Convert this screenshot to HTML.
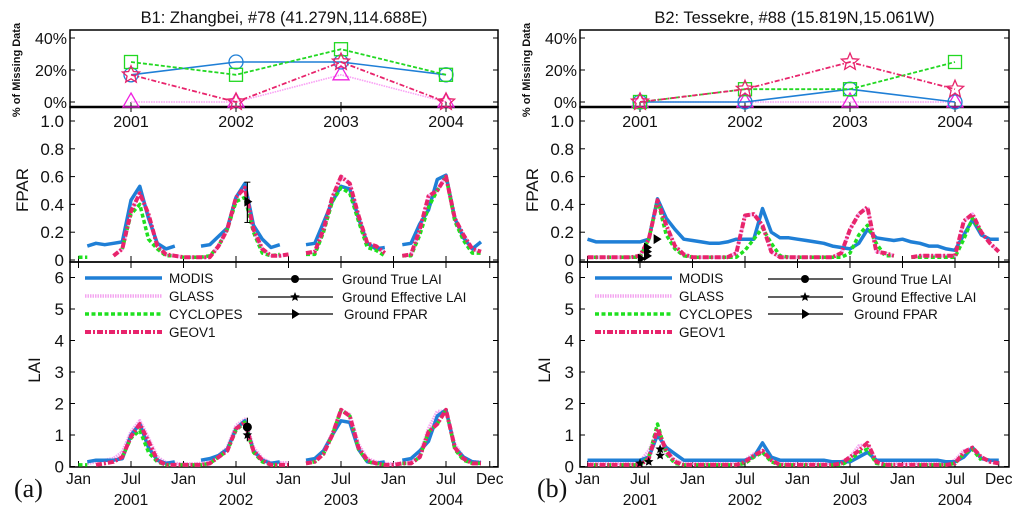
<!DOCTYPE html>
<html><head><meta charset="utf-8"><style>
html,body{margin:0;padding:0;background:#fff;width:1024px;height:518px;overflow:hidden}
svg{display:block;font-family:"Liberation Sans",Arial,sans-serif}
</style></head><body>
<svg id="chart" width="1024" height="518" viewBox="0 0 1024 518" xmlns="http://www.w3.org/2000/svg"></svg>
<script>
// ---------- data ----------
const years = ['2001','2002','2003','2004'];
const monthTickIdx = [0,6,12,18,24,30,36,42,47];
const monthTickLabels = ['Jan','Jul','Jan','Jul','Jan','Jul','Jan','Jul','Dec'];
const pctTicks = [0,20,40];
const fparTicks = [0,0.2,0.4,0.6,0.8,1.0];
const fparTickLabels = ['0','0.2','0.4','0.6','0.8','1.0'];
const laiTicks = [0,1,2,3,4,5,6];
const N = null;
// Left site B1 — missing data %
const aMissModis = [17,25,25,17];
const aMissGlass = [0,0,17,0];
const aMissCyc = [25,17,33,17];
const aMissGeo = [17,0,25,0];
// Left FPAR
const aFparModis = [N,0.10,0.12,0.11,0.12,0.13,0.43,0.53,0.30,0.12,0.08,0.10,N,N,0.10,0.11,0.17,0.23,0.45,0.55,0.25,0.15,0.09,0.11,N,N,0.11,0.12,0.27,0.42,0.53,0.51,0.30,0.12,0.08,0.09,N,0.11,0.12,0.26,0.36,0.58,0.61,0.30,0.16,0.08,0.13,N];
const aFparCyc = [0.02,0.02,N,N,N,0.08,0.33,0.40,0.15,0.08,0.03,0.03,0.02,0.02,0.02,0.03,0.10,0.22,0.42,0.45,0.20,0.05,0.03,0.04,N,N,0.04,0.04,0.20,0.42,0.52,0.48,0.28,0.09,0.07,0.03,N,0.03,0.03,0.18,0.38,0.50,0.60,0.28,0.14,0.05,0.05,N];
const aFparGeo = [N,N,N,N,0.03,0.08,0.35,0.48,0.33,0.10,0.04,0.03,0.02,0.02,0.02,0.02,0.10,0.22,0.45,0.52,0.22,0.08,0.03,0.03,0.04,N,0.05,0.06,0.22,0.45,0.60,0.55,0.32,0.12,0.10,0.05,N,0.03,0.04,0.22,0.46,0.50,0.60,0.30,0.18,0.08,0.06,N];
// Left LAI
const aLaiModis = [N,0.15,0.2,0.2,0.2,0.25,1.0,1.35,0.6,0.2,0.1,0.15,N,N,0.2,0.25,0.35,0.55,1.2,1.45,0.5,0.2,0.1,0.15,N,N,0.2,0.25,0.5,1.0,1.45,1.4,0.55,0.15,0.1,0.15,N,0.2,0.25,0.5,0.8,1.6,1.8,0.6,0.3,0.15,0.12,N];
const aLaiGlass = [N,0.1,0.15,0.2,0.25,0.45,1.1,1.45,0.9,0.3,0.12,0.1,0.08,0.08,0.1,0.2,0.35,0.6,1.3,1.5,0.6,0.25,0.12,0.12,0.12,N,0.15,0.2,0.5,1.05,1.8,1.65,0.7,0.25,0.15,0.1,0.08,0.12,0.15,0.4,1.2,1.75,1.75,0.7,0.3,0.15,0.15,N];
const aLaiCyc = [0.05,0.05,N,N,N,0.3,0.9,1.15,0.45,0.15,0.05,0.05,0.05,0.05,0.05,0.1,0.3,0.5,1.15,1.4,0.45,0.15,0.05,0.05,N,N,0.1,0.15,0.4,1.0,1.8,1.6,0.55,0.15,0.1,0.05,N,0.1,0.1,0.3,1.1,1.35,1.8,0.55,0.2,0.1,0.1,N];
const aLaiGeo = [0.05,N,0.05,0.1,0.15,0.3,0.95,1.35,0.8,0.2,0.05,0.05,0.05,0.05,0.05,0.1,0.3,0.5,1.2,1.4,0.5,0.2,0.05,0.05,0.05,N,0.1,0.15,0.4,1.0,1.8,1.6,0.6,0.2,0.1,0.05,0.05,0.1,0.1,0.3,1.1,1.35,1.8,0.6,0.25,0.1,0.1,N];
const aGroundFparT = [19.3], aGroundFpar = [0.42], aGroundFparLo = [0.27], aGroundFparHi = [0.56];
const aGroundTrueT = [19.3], aGroundTrue = [1.25];
const aGroundEffT = [19.3], aGroundEff = [1.0], aGroundEffLo = [0.8], aGroundEffHi = [1.55];
// Right site B2
const bMissModis = [0,0,8,0];
const bMissGlass = [0,0,0,0];
const bMissCyc = [0,8,8,25];
const bMissGeo = [0,8,25,8];
const bFparModis = [0.15,0.13,0.13,0.13,0.13,0.13,0.13,0.15,0.44,0.30,0.22,0.15,0.14,0.13,0.12,0.12,0.13,0.15,0.15,0.15,0.37,0.20,0.16,0.16,0.15,0.14,0.13,0.12,0.10,0.09,0.08,0.12,0.22,0.16,0.15,0.14,0.15,0.13,0.12,0.10,0.10,0.08,0.07,0.18,0.29,0.18,0.15,0.15];
const bFparCyc = [0.02,0.02,0.02,0.02,0.02,0.02,0.02,0.15,0.43,0.18,0.08,0.03,0.02,0.02,0.02,0.02,0.02,0.02,0.07,0.15,0.23,0.12,0.03,0.02,0.02,0.02,0.02,0.02,0.02,0.02,0.05,0.18,0.25,0.12,0.03,0.03,N,0.02,0.02,0.02,0.02,0.02,0.02,0.15,0.30,0.20,N,N];
const bFparGeo = [0.02,0.02,0.02,0.02,0.02,0.02,0.03,0.15,0.43,0.25,0.10,0.04,0.02,0.02,0.02,0.02,0.02,0.05,0.32,0.33,0.25,0.06,0.02,0.02,0.02,0.02,0.02,0.02,0.02,0.05,0.22,0.33,0.38,0.06,0.05,0.03,N,0.02,0.03,0.03,0.03,0.03,0.03,0.28,0.33,0.20,0.12,0.06];
const bLaiModis = [0.2,0.2,0.2,0.2,0.2,0.2,0.2,0.3,1.0,0.6,0.4,0.2,0.2,0.2,0.2,0.2,0.2,0.2,0.2,0.3,0.75,0.3,0.2,0.2,0.2,0.2,0.2,0.2,0.15,0.15,0.15,0.3,0.45,0.2,0.2,0.2,0.2,0.2,0.2,0.2,0.2,0.15,0.15,0.3,0.6,0.25,0.2,0.2];
const bLaiGlass = [0.1,0.1,0.1,0.1,0.1,0.1,0.15,0.5,1.1,0.4,0.2,0.1,0.1,0.1,0.1,0.1,0.1,0.15,0.2,0.4,0.5,0.2,0.1,0.1,0.1,0.1,0.1,0.1,0.1,0.15,0.3,0.65,0.7,0.2,0.1,0.1,0.1,0.1,0.1,0.1,0.1,0.1,0.2,0.5,0.6,0.3,0.15,0.1];
const bLaiCyc = [0.05,0.05,0.05,0.05,0.05,0.05,0.05,0.3,1.35,0.4,0.1,0.05,0.05,0.05,0.05,0.05,0.05,0.05,0.1,0.3,0.45,0.15,0.05,0.05,0.05,0.05,0.05,0.05,0.05,0.05,0.2,0.45,0.55,0.1,0.05,0.05,N,0.05,0.05,0.05,0.05,0.05,0.1,0.4,0.55,0.2,N,N];
const bLaiGeo = [0.05,0.05,0.05,0.05,0.05,0.05,0.05,0.25,1.2,0.5,0.15,0.05,0.05,0.05,0.05,0.05,0.05,0.05,0.15,0.35,0.5,0.2,0.05,0.05,0.05,0.05,0.05,0.05,0.05,0.1,0.3,0.5,0.75,0.15,0.05,0.05,0.05,0.05,0.05,0.05,0.05,0.05,0.1,0.45,0.6,0.3,0.15,0.1];
const bGroundFparT = [6.1,6.8,6.8,6.8,7.9], bGroundFpar = [0.01,0.03,0.06,0.09,0.15];
const bGroundTrueT = [], bGroundTrue = [];
const bGroundEffT = [6.0,7.0,8.3,8.3], bGroundEff = [0.1,0.15,0.35,0.55];

// ---------- drawing ----------
const svg = document.getElementById('chart');
const NS = 'http://www.w3.org/2000/svg';
function el(tag, attrs, parent){const e=document.createElementNS(NS,tag);for(const k in attrs)e.setAttribute(k,attrs[k]);(parent||svg).appendChild(e);return e;}
function txt(s, attrs, parent){const e=el('text',attrs,parent);e.textContent=s;return e;}

const styles = {
  modis:{stroke:'#1f7fd6',w:3.5,dash:null},
  glass:{stroke:'#f4a6f0',w:3.5,dash:'1.5,1'},
  cyc:{stroke:'#1fe01f',w:3.5,dash:'4,2.5'},
  geo:{stroke:'#e8246c',w:4,dash:'6,2,2,2'}
};
const topStyles = {
  modis:{stroke:'#1f7fd6',w:1.6,dash:null,color:'#1f7fd6'},
  glass:{stroke:'#f9a0f5',w:1.6,dash:'1.5,1',color:'#f020e0'},
  cyc:{stroke:'#22d822',w:1.8,dash:'4,2',color:'#22d822'},
  geo:{stroke:'#e8246c',w:1.8,dash:'5,2,1.5,2',color:'#e8246c'}
};

function starPath(cx,cy,r){let d='';for(let i=0;i<10;i++){const a=-Math.PI/2+i*Math.PI/5;const rr=i%2?r*0.45:r;d+=(i?'L':'M')+(cx+rr*Math.cos(a)).toFixed(1)+','+(cy+rr*Math.sin(a)).toFixed(1);}return d+'Z';}

function drawPanel(p){
  const g = el('g',{});
  
  
  const L=p.left,R=p.right;
  const x0=p.jan, dx=8.75;
  const xm = m => x0 + m*dx;
  const yPct = v => 102 - v*1.6;
  const yF = v => 260 - v*139;
  const yL = v => 466.5 - v*31.5;
  const t=txt(p.title,{x:(L+R)/2,y:23,'font-size':16.5,'text-anchor':'middle',fill:'#111'},g);
  
  
  el('rect',{x:L,y:30,width:R-L,height:77,fill:'none',stroke:'#000','stroke-width':1.5},g);
  el('rect',{x:L,y:107,width:R-L,height:155,fill:'none',stroke:'#000','stroke-width':1.5},g);
  el('rect',{x:L,y:262,width:R-L,height:205,fill:'none',stroke:'#000','stroke-width':1.5},g);
  el('line',{x1:L,y1:107,x2:R,y2:107,stroke:'#000','stroke-width':2.5},g);
  pctTicks.forEach(v=>{const y=yPct(v);
    el('line',{x1:L,y1:y,x2:L+5,y2:y,stroke:'#000'},g);el('line',{x1:R-5,y1:y,x2:R,y2:y,stroke:'#000'},g);
    const tl=txt(v+'%',{x:L-3,y:y+6,'font-size':16,'text-anchor':'end',fill:'#111'},g);
    
    });
  const yt=txt('% of Missing Data',{x:0,y:0,'font-size':11,'font-weight':'bold','text-anchor':'middle',transform:`translate(${L-50},70) rotate(-90)`,fill:'#111'},g);
  
  
  years.forEach((yr,i)=>{const x=xm(6+12*i);
    el('line',{x1:x,y1:102,x2:x,y2:107,stroke:'#000'},g);
    el('line',{x1:x,y1:107,x2:x,y2:112,stroke:'#000'},g);
    const yl=txt(yr,{x:x,y:127,'font-size':16,'text-anchor':'middle',fill:'#111'},g);
    
    });
  fparTicks.forEach((v,i)=>{const y=yF(v);
    el('line',{x1:L,y1:y,x2:L+5,y2:y,stroke:'#000'},g);el('line',{x1:R-5,y1:y,x2:R,y2:y,stroke:'#000'},g);
    const tl=txt(fparTickLabels[i],{x:L-6,y:y+6,'font-size':17,'text-anchor':'end',fill:'#111'},g);
    
    });
  const ft=txt('FPAR',{x:0,y:0,'font-size':17,'text-anchor':'middle',transform:`translate(${L-42},190) rotate(-90)`,fill:'#111'},g);
  
  
  laiTicks.forEach(v=>{const y=yL(v);
    el('line',{x1:L,y1:y,x2:L+5,y2:y,stroke:'#000'},g);el('line',{x1:R-5,y1:y,x2:R,y2:y,stroke:'#000'},g);
    const tl=txt(String(v),{x:L-6,y:y+6,'font-size':17,'text-anchor':'end',fill:'#111'},g);
    
    });
  const lt=txt('LAI',{x:0,y:0,'font-size':17,'text-anchor':'middle',transform:`translate(${L-30},370) rotate(-90)`,fill:'#111'},g);
  
  
  monthTickIdx.forEach((m,i)=>{const x=xm(m);
    el('line',{x1:x,y1:262,x2:x,y2:256,stroke:'#000'},g);
    el('line',{x1:x,y1:467,x2:x,y2:461,stroke:'#000'},g);
    el('line',{x1:x,y1:262,x2:x,y2:268,stroke:'#000'},g);
    const ml=txt(monthTickLabels[i],{x:x,y:484,'font-size':15.5,'text-anchor':'middle',fill:'#111'},g);
    
    });
  years.forEach((yr,i)=>{const yl=txt(yr,{x:xm(6+12*i),y:505,'font-size':15.5,'text-anchor':'middle',fill:'#111'},g);
    
    });
  const pl=txt(p.letter,{x:p.letterX,y:497,'font-size':26,'font-family':'"Liberation Serif",serif',fill:'#111'},g);
  
  

  function series(arr, yfn, st, name){
    let d='', pen=false;
    arr.forEach((v,i)=>{ if(v===null){pen=false;return;} d+=(pen?'L':'M')+xm(i).toFixed(1)+','+yfn(v).toFixed(1); pen=true;});
    const a={d:d,fill:'none',stroke:st.stroke,'stroke-width':st.w,'stroke-linejoin':'round'};
    if(st.dash)a['stroke-dasharray']=st.dash;
    const pth=el('path',a,g);
    
    
  }
  series(p.fparGeo,yF,styles.glass,'glass-fpar-line');
  series(p.fparModis,yF,styles.modis,'modis-fpar-line');
  series(p.fparCyc,yF,styles.cyc,'cyclopes-fpar-line');
  series(p.fparGeo,yF,styles.geo,'geov1-fpar-line');
  series(p.laiGlass,yL,styles.glass,'glass-lai-line');
  series(p.laiModis,yL,styles.modis,'modis-lai-line');
  series(p.laiCyc,yL,styles.cyc,'cyclopes-lai-line');
  series(p.laiGeo,yL,styles.geo,'geov1-lai-line');

  const yearX = i => xm(6+12*i);
  function miss(arr, st, marker, name){
    let d='';arr.forEach((v,i)=>{d+=(i?'L':'M')+yearX(i)+','+yPct(v);});
    const a={d:d,fill:'none',stroke:st.stroke,'stroke-width':st.w};if(st.dash)a['stroke-dasharray']=st.dash;
    const pth=el('path',a,g);
    
    
    arr.forEach((v,i)=>{const x=yearX(i),y=yPct(v);let m;
      if(marker==='circle') m=el('circle',{cx:x,cy:y,r:7,fill:'none',stroke:st.color,'stroke-width':1.3},g);
      else if(marker==='square') m=el('rect',{x:x-6.5,y:y-6.5,width:13,height:13,fill:'none',stroke:st.color,'stroke-width':1.3},g);
      else if(marker==='tri') m=el('path',{d:`M${x},${y-9}L${x+8},${y+5}L${x-8},${y+5}Z`,fill:'none',stroke:st.color,'stroke-width':1.3},g);
      else m=el('path',{d:starPath(x,y,9),fill:'none',stroke:st.color,'stroke-width':1.3},g);
      
      });
  }
  miss(p.missGlass,topStyles.glass,'tri','glass');
  miss(p.missModis,topStyles.modis,'circle','modis');
  miss(p.missCyc,topStyles.cyc,'square','cyclopes');
  miss(p.missGeo,topStyles.geo,'star','geov1');

  p.gFparT.forEach((t,i)=>{const x=xm(t),y=yF(p.gFpar[i]);
    if(p.gFparLo){el('line',{x1:x,y1:yF(p.gFparLo[i]),x2:x,y2:yF(p.gFparHi[i]),stroke:'#000','stroke-width':1.2},g);
      el('line',{x1:x-3,y1:yF(p.gFparLo[i]),x2:x+3,y2:yF(p.gFparLo[i]),stroke:'#000'},g);
      el('line',{x1:x-3,y1:yF(p.gFparHi[i]),x2:x+3,y2:yF(p.gFparHi[i]),stroke:'#000'},g);}
    const m=el('path',{d:`M${x-3},${y-5}L${x+5},${y}L${x-3},${y+5}Z`,fill:'#000'},g);
    
    });
  p.gEffT.forEach((t,i)=>{const x=xm(t),y=yL(p.gEff[i]);
    if(p.gEffLo){el('line',{x1:x,y1:yL(p.gEffLo[i]),x2:x,y2:yL(p.gEffHi[i]),stroke:'#000','stroke-width':1.2},g);}
    const m=el('path',{d:starPath(x,y,5),fill:'#000'},g);
    
    });
  p.gTrueT.forEach((t,i)=>{const m=el('circle',{cx:xm(t),cy:yL(p.gTrue[i]),r:4.5,fill:'#000'},g);
    
    });

  const lg=el('g',{},g);
  
  
  const lx=L+15+p.legOff, ly=[278,296,314,332];
  [['MODIS','modis'],['GLASS','glass'],['CYCLOPES','cyc'],['GEOV1','geo']].forEach((e,i)=>{
    const st=styles[e[1]];const a={x1:lx,y1:ly[i],x2:lx+77,y2:ly[i],stroke:st.stroke,'stroke-width':st.w};
    if(st.dash)a['stroke-dasharray']=st.dash;
    const ln=el('line',a,lg);
    
    
    const tl=txt(e[0],{x:lx+84,y:ly[i]+5,'font-size':13.5,fill:'#111'},lg);
    
    });
  const gx=L+188+p.legOff;
  [['Ground True LAI','c'],['Ground Effective LAI','s'],['Ground FPAR','t']].forEach((e,i)=>{
    const y=[279,297,314][i];const mx=gx+37;
    el('line',{x1:gx,y1:y,x2:gx+75,y2:y,stroke:'#000','stroke-width':1.2},lg);
    if(e[1]==='c')el('circle',{cx:mx,cy:y,r:4,fill:'#000'},lg);
    else if(e[1]==='s')el('path',{d:starPath(mx,y,5),fill:'#000'},lg);
    else el('path',{d:`M${mx-3},${y-5}L${mx+5},${y}L${mx-3},${y+5}Z`,fill:'#000'},lg);
    const tl=txt(e[0],{x:gx+(e[1]==='t'?86:84),y:y+5,'font-size':13.5,fill:'#111'},lg);
    
    });
}

drawPanel({id:'a',name:'panel-b1-zhangbei',title:'B1: Zhangbei, #78 (41.279N,114.688E)',left:70,right:498,jan:78.5,letter:'(a)',letterX:14,legOff:0,
  missModis:aMissModis,missGlass:aMissGlass,missCyc:aMissCyc,missGeo:aMissGeo,
  fparModis:aFparModis,fparCyc:aFparCyc,fparGeo:aFparGeo,
  laiModis:aLaiModis,laiGlass:aLaiGlass,laiCyc:aLaiCyc,laiGeo:aLaiGeo,
  gFparT:aGroundFparT,gFpar:aGroundFpar,gFparLo:aGroundFparLo,gFparHi:aGroundFparHi,
  gTrueT:aGroundTrueT,gTrue:aGroundTrue,gEffT:aGroundEffT,gEff:aGroundEff,gEffLo:aGroundEffLo,gEffHi:aGroundEffHi});
drawPanel({id:'b',name:'panel-b2-tessekre',title:'B2: Tessekre, #88 (15.819N,15.061W)',left:580,right:1009,jan:587.5,letter:'(b)',letterX:537,legOff:0,
  missModis:bMissModis,missGlass:bMissGlass,missCyc:bMissCyc,missGeo:bMissGeo,
  fparModis:bFparModis,fparCyc:bFparCyc,fparGeo:bFparGeo,
  laiModis:bLaiModis,laiGlass:bLaiGlass,laiCyc:bLaiCyc,laiGeo:bLaiGeo,
  gFparT:bGroundFparT,gFpar:bGroundFpar,gFparLo:null,gFparHi:null,
  gTrueT:bGroundTrueT,gTrue:bGroundTrue,gEffT:bGroundEffT,gEff:bGroundEff,gEffLo:null,gEffHi:null});
</script>
</body></html>
